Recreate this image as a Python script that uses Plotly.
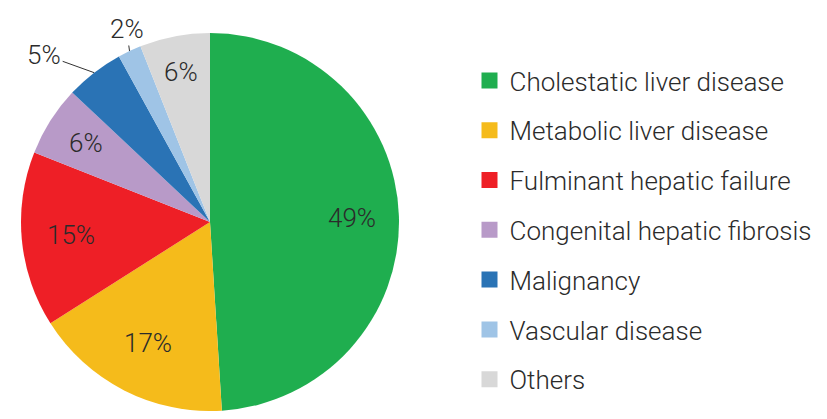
import math
import plotly.graph_objects as go

labels = ["Cholestatic liver disease", "Metabolic liver disease", "Fulminant hepatic failure",
          "Congenital hepatic fibrosis", "Malignancy", "Vascular disease", "Others"]
values = [49, 17, 15, 6, 5, 2, 6]
colors = ["#1fae4f", "#f5bb1b", "#ee1f26", "#b89ac8", "#2a73b5", "#9fc4e6", "#d8d8d8"]

# label styling (not data): radial position as fraction of radius, or pixel offset for outside labels
label_r = [0.75, 0.72, 0.74, 0.78, None, None, 0.81]
outside_offset = {"Malignancy": (-50, -18), "Vascular disease": (-3, -22)}

# page body has an 8px margin -> figure sized so the page does not overflow the 827x419 window;
# coordinates below are in figure px (screen px - 8)
W, H = 811, 403
cx, cy, R = 202, 214, 189  # pie centre/radius in figure px
FONT = "Roboto"
TXT = "#2b2b2b"

fig = go.Figure()
fig.add_trace(go.Pie(
    labels=labels, values=values, sort=False, direction="clockwise", rotation=0,
    marker=dict(colors=colors, line=dict(width=0)),
    textinfo="none", showlegend=False, hoverinfo="label+percent",
    domain=dict(x=[(cx - R) / W, (cx + R) / W], y=[max(0, 1 - (cy + R) / H), 1 - (cy - R) / H]),
))

# legend entries
for l, c in zip(labels, colors):
    fig.add_trace(go.Scatter(x=[None], y=[None], mode="markers", name=l, legendgroup=l,
                             marker=dict(symbol="square", size=17, color=c)))

# percentage labels placed by slice mid-angle
total = sum(values)
cum = 0
for l, v, fr in zip(labels, values, label_r):
    mid = (cum + v / 2) / total * 2 * math.pi
    cum += v
    txt = f"{round(v / total * 100)}%"
    if fr is not None:
        px = cx + fr * R * math.sin(mid)
        py = cy - fr * R * math.cos(mid)
        fig.add_annotation(x=px / W, y=1 - py / H, xref="paper", yref="paper", text=txt,
                           xanchor="center", yanchor="middle", showarrow=False,
                           font=dict(family=FONT, size=26, color=TXT, weight=300))
    else:
        px = cx + R * math.sin(mid)
        py = cy - R * math.cos(mid)
        ax, ay = outside_offset[l]
        fig.add_annotation(x=px / W, y=1 - py / H, xref="paper", yref="paper",
                           text=txt, showarrow=True, arrowhead=0, arrowwidth=1,
                           arrowcolor="#333", ax=ax, ay=ay, standoff=0,
                           font=dict(family=FONT, size=26, color=TXT, weight=300))

fig.update_layout(
    width=W, height=H, margin=dict(l=0, r=0, t=0, b=0),
    paper_bgcolor="white", plot_bgcolor="white",
    xaxis=dict(visible=False), yaxis=dict(visible=False),
    legend=dict(x=461.5 / W, y=1 - 49 / H, xanchor="left", yanchor="top", tracegroupgap=13,
                font=dict(family=FONT, size=26, color=TXT, weight=300), itemsizing="trace",
                bgcolor="rgba(0,0,0,0)"),
)
fig.write_html("out.html")
